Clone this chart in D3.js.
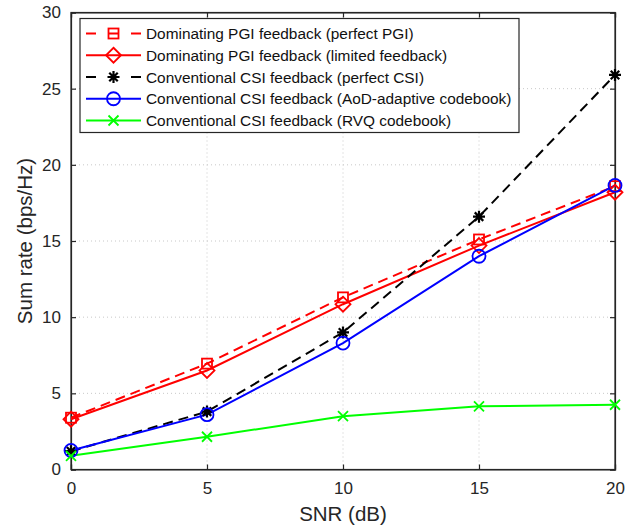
<!DOCTYPE html>
<html>
<head>
<meta charset="utf-8">
<script src="https://cdn.jsdelivr.net/npm/d3@7"></script>
<style>
  html, body { margin: 0; padding: 0; background: #fff; }
  svg { display: block; font-family: "Liberation Sans", Arial, sans-serif; }
</style>
</head>
<body>
<svg id="chart" width="627" height="526"></svg>
<script>
// SNR points (dB)
const snr = [0, 5, 10, 15, 20];

// Sum rate (bps/Hz) per scheme
const pgiPerfect  = [3.4, 6.95, 11.3, 15.1, 18.6];
const pgiLimited  = [3.3, 6.5, 10.85, 14.7, 18.2];
const csiPerfect  = [1.2, 3.8, 9.0, 16.6, 25.9];
const csiAod      = [1.25, 3.6, 8.3, 14.0, 18.65];
const csiRvq      = [0.9, 2.15, 3.5, 4.15, 4.25];

const xTicks = [0, 5, 10, 15, 20];
const yTicks = [0, 5, 10, 15, 20, 25, 30];

const labels = [
  "Dominating PGI feedback (perfect PGI)",
  "Dominating PGI feedback (limited feedback)",
  "Conventional CSI feedback (perfect CSI)",
  "Conventional CSI feedback (AoD-adaptive codebook)",
  "Conventional CSI feedback (RVQ codebook)"
];

const series = [
  { name: labels[0], values: pgiPerfect, color: "#ff0000", dash: "10,6", marker: "square" },
  { name: labels[1], values: pgiLimited, color: "#ff0000", dash: null,   marker: "diamond" },
  { name: labels[2], values: csiPerfect, color: "#000000", dash: "10,6", marker: "star" },
  { name: labels[3], values: csiAod,     color: "#0000ff", dash: null,   marker: "circle" },
  { name: labels[4], values: csiRvq,     color: "#00ff00", dash: null,   marker: "cross" }
];

const svg = d3.select("#chart");
const pLeft = 71, pRight = 615, pTop = 12.5, pBottom = 469.5;

const x = d3.scaleLinear().domain([0, 20]).range([pLeft, pRight]);
const y = d3.scaleLinear().domain([0, 30]).range([pBottom, pTop]);

const axisColor = "#262626";
const tickLen = 5;

// dotted grid
const grid = svg.append("g");
xTicks.slice(1, -1).forEach(t => {
  grid.append("line").attr("x1", x(t)).attr("x2", x(t)).attr("y1", pTop).attr("y2", pBottom)
    .attr("stroke", "#c8c8c8").attr("stroke-width", 1).attr("stroke-dasharray", "1,3");
});
yTicks.slice(1, -1).forEach(t => {
  grid.append("line").attr("x1", pLeft).attr("x2", pRight).attr("y1", y(t)).attr("y2", y(t))
    .attr("stroke", "#c8c8c8").attr("stroke-width", 1).attr("stroke-dasharray", "1,3");
});

// axes with inward ticks on all four sides
const axB = svg.append("g").attr("transform", `translate(0,${pBottom})`)
  .call(d3.axisBottom(x).tickValues(xTicks).tickSize(-tickLen).tickPadding(12).tickFormat(d3.format("d")));
const axT = svg.append("g").attr("transform", `translate(0,${pTop})`)
  .call(d3.axisTop(x).tickValues(xTicks).tickSize(-tickLen).tickFormat(""));
const axL = svg.append("g").attr("transform", `translate(${pLeft},0)`)
  .call(d3.axisLeft(y).tickValues(yTicks).tickSize(-tickLen).tickPadding(10).tickFormat(d3.format("d")));
const axR = svg.append("g").attr("transform", `translate(${pRight},0)`)
  .call(d3.axisRight(y).tickValues(yTicks).tickSize(-tickLen).tickFormat(""));

[axB, axT, axL, axR].forEach(g => {
  g.select(".domain").attr("stroke", axisColor).attr("stroke-width", 1.2);
  g.selectAll(".tick line").attr("stroke", axisColor).attr("stroke-width", 1.2);
  g.selectAll(".tick text").attr("fill", axisColor).attr("font-size", 17)
    .attr("font-family", "Liberation Sans, Arial, sans-serif");
});
// plot box
svg.append("rect").attr("x", pLeft).attr("y", pTop).attr("width", pRight - pLeft).attr("height", pBottom - pTop)
  .attr("fill", "none").attr("stroke", axisColor).attr("stroke-width", 1.2);

// axis titles
svg.append("text").attr("x", (pLeft + pRight) / 2).attr("y", 521)
  .attr("text-anchor", "middle").attr("font-size", 20.5).attr("fill", axisColor).text("SNR (dB)");
svg.append("text").attr("transform", `translate(32,${(pTop + pBottom) / 2}) rotate(-90)`)
  .attr("text-anchor", "middle").attr("font-size", 20.5).attr("fill", axisColor).text("Sum rate (bps/Hz)");

// marker drawing
function drawMarker(g, type, cx, cy, color) {
  const sw = 1.8;
  if (type === "square") {
    const s = 5;
    g.append("rect").attr("x", cx - s).attr("y", cy - s).attr("width", 2 * s).attr("height", 2 * s)
      .attr("fill", "none").attr("stroke", color).attr("stroke-width", sw);
  } else if (type === "diamond") {
    const s = 7.5;
    g.append("path").attr("d", `M${cx},${cy - s}L${cx + s},${cy}L${cx},${cy + s}L${cx - s},${cy}Z`)
      .attr("fill", "none").attr("stroke", color).attr("stroke-width", sw);
  } else if (type === "circle") {
    g.append("circle").attr("cx", cx).attr("cy", cy).attr("r", 6.5)
      .attr("fill", "none").attr("stroke", color).attr("stroke-width", sw);
  } else if (type === "star") {
    const s = 6;
    const d = s * 0.707;
    g.append("path")
      .attr("d", `M${cx - s},${cy}L${cx + s},${cy}M${cx},${cy - s}L${cx},${cy + s}` +
                 `M${cx - d},${cy - d}L${cx + d},${cy + d}M${cx - d},${cy + d}L${cx + d},${cy - d}`)
      .attr("stroke", color).attr("stroke-width", 2.2);
  } else if (type === "cross") {
    const s = 5;
    g.append("path").attr("d", `M${cx - s},${cy - s}L${cx + s},${cy + s}M${cx - s},${cy + s}L${cx + s},${cy - s}`)
      .attr("stroke", color).attr("stroke-width", sw);
  }
}

// series lines and markers
const line = d3.line().x((d, i) => x(snr[i])).y(d => y(d));
const plot = svg.append("g");
series.forEach(s => {
  const p = plot.append("path").datum(s.values).attr("d", line)
    .attr("fill", "none").attr("stroke", s.color).attr("stroke-width", 2);
  if (s.dash) p.attr("stroke-dasharray", s.dash);
});
series.forEach(s => {
  const g = plot.append("g");
  s.values.forEach((v, i) => drawMarker(g, s.marker, x(snr[i]), y(v), s.color));
});

// legend
const lg = svg.append("g");
lg.append("rect").attr("x", 80).attr("y", 18.5).attr("width", 439).attr("height", 114)
  .attr("fill", "#fff").attr("stroke", axisColor).attr("stroke-width", 1.2);
const rowY = d3.scaleLinear().domain([0, 4]).range([33.5, 120.5]);
series.forEach((s, i) => {
  const yy = rowY(i);
  const l = lg.append("line").attr("x1", 86).attr("x2", 141).attr("y1", yy).attr("y2", yy)
    .attr("stroke", s.color).attr("stroke-width", 2);
  if (s.dash) l.attr("stroke-dasharray", "10,12.5");
  drawMarker(lg, s.marker, 113.5, yy, s.color);
  lg.append("text").attr("x", 146).attr("y", yy + 5.5).attr("font-size", 15.4)
    .attr("fill", "#111").text(s.name);
});
</script>
</body>
</html>
